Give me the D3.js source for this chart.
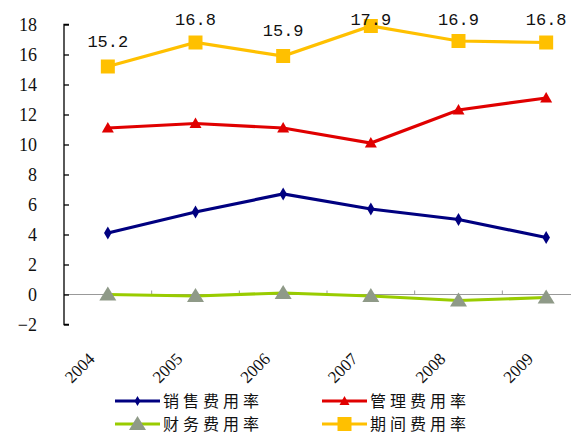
<!DOCTYPE html>
<html><head><meta charset="utf-8">
<script src="https://cdn.jsdelivr.net/npm/d3@7"></script>
<style>body{margin:0;background:#fff}.serif{font-family:"Liberation Serif","DejaVu Serif",serif}</style>
</head><body>
<svg id="c" width="571" height="436"></svg>
<script>
const years = ["2004","2005","2006","2007","2008","2009"];
const yTicks = [-2,0,2,4,6,8,10,12,14,16,18];
const salesRate = [4.1,5.5,6.7,5.7,5.0,3.8];
const mgmtRate = [11.1,11.4,11.1,10.1,12.3,13.1];
const finRate = [0.0,-0.1,0.1,-0.1,-0.4,-0.2];
const periodRate = [15.2,16.8,15.9,17.9,16.9,16.8];
const seriesNames = ["销售费用率","管理费用率","财务费用率","期间费用率"];

const svg = d3.select("#c");
const x = d3.scaleBand().domain(years).range([64,590]);
const y = d3.scaleLinear().domain([-2,18]).range([324.5,24.5]);
const cx = d => x(d)+x.bandwidth()/2;

// zero line
svg.append("line").attr("x1",64).attr("x2",571).attr("y1",y(0)).attr("y2",y(0))
  .attr("stroke","#999").attr("stroke-width",1.2);
years.slice(1).forEach(d=>{
  svg.append("line").attr("x1",x(d)).attr("x2",x(d)).attr("y1",y(0)).attr("y2",y(0)-4)
   .attr("stroke","#999").attr("stroke-width",1);
});

// y axis
const yAxis = d3.axisRight(y).tickValues(yTicks).tickSize(5).tickFormat("");
const ga = svg.append("g").attr("transform","translate(64,0)").call(yAxis);
ga.select(".domain").attr("stroke","#000").attr("stroke-width",1.3).attr("d",`M5,${y(18)}H0V${y(-2)}H5`);
ga.selectAll(".tick line").attr("stroke","#000").attr("stroke-width",1.3);
svg.append("g").selectAll("text").data(yTicks).join("text").attr("class","serif")
  .attr("x",37).attr("y",d=>y(d)+6).attr("text-anchor","end")
  .attr("font-size",18).attr("fill","#111")
  .text(d=>d<0?"\u2212"+Math.abs(d):d);

// x labels
svg.append("g").selectAll("text").data(years).join("text").attr("class","serif")
  .attr("transform",d=>`translate(${cx(d)-12},${360}) rotate(-45)`)
  .attr("text-anchor","end").attr("font-size",17)
  .attr("fill","#111").text(d=>d);

const line = d3.line().x((v,i)=>cx(years[i])).y(v=>y(v));
function drawSeries(vals,color,marker,mcolor){
  svg.append("path").attr("d",line(vals)).attr("fill","none").attr("stroke",color).attr("stroke-width",3.2);
  svg.append("g").selectAll("path").data(vals).join("path")
    .attr("transform",(v,i)=>`translate(${cx(years[i])},${y(v)})`)
    .attr("d",marker).attr("fill",mcolor);
}
const diamond = d3.symbol(d3.symbolDiamond,50)();
const triSmall = "M0,-6L6,4.5L-6,4.5Z";
const triBig = "M0,-8L8.5,6L-8.5,6Z";
const square = "M-7,-7H7V7H-7Z";
drawSeries(finRate,"#99cc00",triBig,"#8f9a88");
drawSeries(salesRate,"#000080",diamond,"#000080");
drawSeries(mgmtRate,"#e00000",triSmall,"#e00000");
drawSeries(periodRate,"#ffc000",square,"#ffc000");

// data labels
svg.append("g").selectAll("text").data(periodRate).join("text")
  .attr("x",(v,i)=>cx(years[i])).attr("y",v=>Math.max(y(v)-20,25))
  .attr("text-anchor","middle").attr("font-family","Liberation Mono").attr("font-size",17)
  .attr("fill","#111").text(v=>v.toFixed(1));

// legend
const leg = [
  {n:seriesNames[0],c:"#000080",m:d3.symbol(d3.symbolDiamond,30)(),mc:"#000080",x:115,y:401},
  {n:seriesNames[1],c:"#e00000",m:"M0,-5L5,4L-5,4Z",mc:"#e00000",x:322,y:401},
  {n:seriesNames[2],c:"#99cc00",m:triBig,mc:"#8f9a88",x:115,y:424},
  {n:seriesNames[3],c:"#ffc000",m:square,mc:"#ffc000",x:322,y:424}
];
const lg = svg.append("g").selectAll("g").data(leg).join("g");
lg.append("line").attr("x1",d=>d.x).attr("x2",d=>d.x+45).attr("y1",d=>d.y).attr("y2",d=>d.y)
  .attr("stroke",d=>d.c).attr("stroke-width",3.2);
lg.append("path").attr("transform",d=>`translate(${d.x+22.5},${d.y})`).attr("d",d=>d.m).attr("fill",d=>d.mc);
lg.append("text").attr("x",d=>d.x+48).attr("y",d=>d.y+6).attr("font-family","Noto Sans CJK SC")
  .attr("font-size",16).attr("fill","#111").attr("letter-spacing",4).text(d=>d.n);
</script>
</body></html>
